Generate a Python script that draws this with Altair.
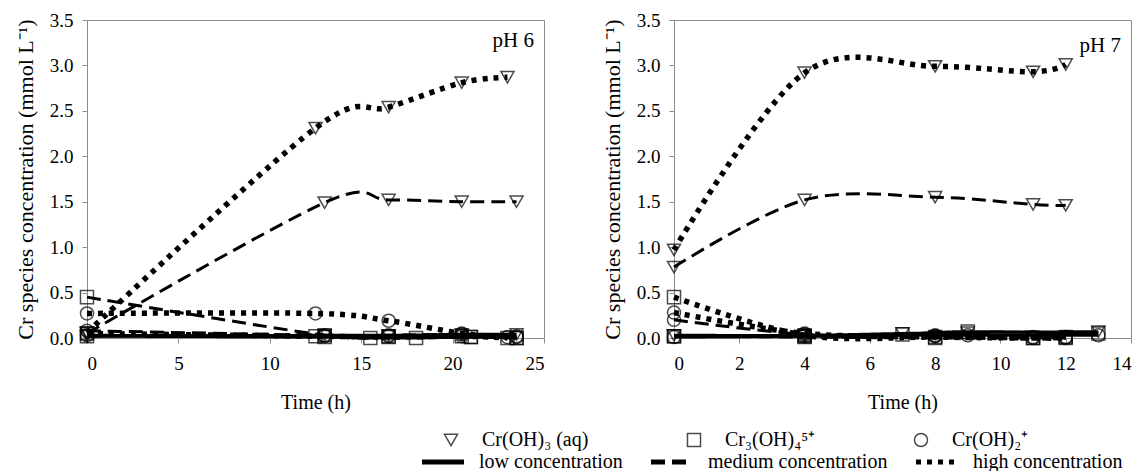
import altair as alt
import pandas as pd

SPECIES = ["Cr(OH)₃ (aq)", "Cr₃(OH)₄⁵⁺", "Cr(OH)₂⁺"]
LEVELS = ["low concentration", "medium concentration", "high concentration"]

# ---- pH 6 ----
tri_low_6_t = [0, 13, 16.5, 20.5, 23.5]
tri_low_6_c = [0.02, 0.03, 0.03, 0.04, 0.04]
tri_med_6_t = [0, 13, 16.5, 20.5, 23.5]
tri_med_6_c = [0.05, 1.49, 1.52, 1.50, 1.50]
tri_high_6_t = [0, 12.5, 16.5, 20.5, 23]
tri_high_6_c = [0.06, 2.31, 2.54, 2.81, 2.87]

sq_low_6_t = [0, 13, 15.5, 18, 21, 23.5]
sq_low_6_c = [0.02, 0.01, 0.00, 0.00, 0.01, 0.00]
sq_med_6_t = [0, 13, 16.5, 21, 23.5]
sq_med_6_c = [0.45, 0.03, 0.02, 0.01, 0.00]
sq_high_6_t = [0, 12.5, 16.5, 20.5, 23]
sq_high_6_c = [0.05, 0.02, 0.01, 0.02, 0.00]

ci_low_6_t = [0, 13, 16.5, 20.5, 23.5]
ci_low_6_c = [0.03, 0.02, 0.02, 0.02, 0.01]
ci_med_6_t = [0, 13, 16.5, 20.5, 23.5]
ci_med_6_c = [0.08, 0.03, 0.03, 0.04, 0.02]
ci_high_6_t = [0, 12.5, 16.5, 20.5, 23]
ci_high_6_c = [0.27, 0.27, 0.19, 0.05, 0.01]

# ---- pH 7 ----
tri_low_7_t = [0, 4, 7, 9, 13]
tri_low_7_c = [0.03, 0.03, 0.05, 0.06, 0.07]
tri_med_7_t = [0, 4, 8, 11, 12]
tri_med_7_c = [0.78, 1.52, 1.55, 1.47, 1.46]
tri_high_7_t = [0, 4, 8, 11, 12]
tri_high_7_c = [0.97, 2.92, 2.99, 2.93, 3.01]

sq_low_7_t = [0, 4, 7, 9, 13]
sq_low_7_c = [0.02, 0.02, 0.04, 0.07, 0.05]
sq_med_7_t = [0, 4, 8, 11, 12]
sq_med_7_c = [0.02, 0.01, 0.00, 0.00, 0.00]
sq_high_7_t = [0, 4, 8, 11, 12]
sq_high_7_c = [0.45, 0.03, 0.01, 0.00, 0.01]

ci_low_7_t = [0, 4, 8, 9, 13]
ci_low_7_c = [0.01, 0.02, 0.03, 0.03, 0.03]
ci_med_7_t = [0, 4, 8, 11, 12]
ci_med_7_c = [0.20, 0.04, 0.02, 0.01, 0.01]
ci_high_7_t = [0, 4, 8, 11, 12]
ci_high_7_c = [0.28, 0.05, 0.02, 0.00, 0.00]


def frame(series):
    rows = []
    for sp, lv, ts, cs in series:
        for t, c in zip(ts, cs):
            rows.append({"species": sp, "conc": lv, "t": t, "c": c})
    return pd.DataFrame(rows)


df6 = frame([
    (SPECIES[0], LEVELS[0], tri_low_6_t, tri_low_6_c),
    (SPECIES[0], LEVELS[1], tri_med_6_t, tri_med_6_c),
    (SPECIES[0], LEVELS[2], tri_high_6_t, tri_high_6_c),
    (SPECIES[1], LEVELS[0], sq_low_6_t, sq_low_6_c),
    (SPECIES[1], LEVELS[1], sq_med_6_t, sq_med_6_c),
    (SPECIES[1], LEVELS[2], sq_high_6_t, sq_high_6_c),
    (SPECIES[2], LEVELS[0], ci_low_6_t, ci_low_6_c),
    (SPECIES[2], LEVELS[1], ci_med_6_t, ci_med_6_c),
    (SPECIES[2], LEVELS[2], ci_high_6_t, ci_high_6_c),
])
df7 = frame([
    (SPECIES[0], LEVELS[0], tri_low_7_t, tri_low_7_c),
    (SPECIES[0], LEVELS[1], tri_med_7_t, tri_med_7_c),
    (SPECIES[0], LEVELS[2], tri_high_7_t, tri_high_7_c),
    (SPECIES[1], LEVELS[0], sq_low_7_t, sq_low_7_c),
    (SPECIES[1], LEVELS[1], sq_med_7_t, sq_med_7_c),
    (SPECIES[1], LEVELS[2], sq_high_7_t, sq_high_7_c),
    (SPECIES[2], LEVELS[0], ci_low_7_t, ci_low_7_c),
    (SPECIES[2], LEVELS[1], ci_med_7_t, ci_med_7_c),
    (SPECIES[2], LEVELS[2], ci_high_7_t, ci_high_7_c),
])

FONT = "Liberation Serif"
GREY = "#8c8c8c"
W, H = 457, 318

# line-style key: a horizontal stroke twice as long as the entry slot
dash_legend = alt.Legend(
    title=None, orient="none", direction="horizontal", columns=3,
    legendX=343, legendY=429, symbolType="M-2,0L2,0", symbolSize=441,
    symbolStrokeColor="black", symbolStrokeWidth=5, columnPadding=18, labelOffset=23,
    labelFont=FONT, labelFontSize=20, labelColor="black", labelLimit=400,
)
shape_legend = alt.Legend(
    title=None, orient="none", direction="horizontal", columns=3,
    legendX=354, legendY=410, symbolSize=170, symbolStrokeWidth=1.5,
    symbolStrokeColor="black", columnPadding=95, labelOffset=21,
    labelFont=FONT, labelFontSize=20, labelColor="black", labelLimit=400,
)


def axis(title, values, fmt, pad, tpad, tsize):
    return alt.Axis(
        title=title, values=values, format=fmt, grid=False,
        domainColor=GREY, tickColor=GREY, tickSize=5,
        labelFont=FONT, labelFontSize=19, labelColor="black", labelPadding=pad,
        titleFont=FONT, titleFontSize=tsize, titleFontWeight="normal", titleColor="black",
        titlePadding=tpad,
    )


def panel(df, xmax, xstep, tag, tag_y):
    x = alt.X("t:Q", scale=alt.Scale(domain=[0, xmax], nice=False),
              axis=axis("Time (h)", list(range(0, xmax + 1, xstep)), "d", 11, 19, 20))
    y = alt.Y("c:Q", scale=alt.Scale(domain=[0, 3.5], nice=False),
              axis=axis("Cr species concentration (mmol L⁻¹)",
                        [0, 0.5, 1.0, 1.5, 2.0, 2.5, 3.0, 3.5], ".1f", 9, 12, 22))
    lines = alt.Chart(df).mark_line(interpolate="cardinal", color="black").encode(
        x=x, y=y,
        detail="species:N",
        strokeDash=alt.StrokeDash("conc:N", scale=alt.Scale(domain=LEVELS, range=[[1, 0], [14, 7], [5, 6]]),
                                  legend=dash_legend),
        strokeWidth=alt.StrokeWidth(condition={"test": "datum.conc === 'high concentration'", "value": 5.5},
                                    value=3),
    )
    pts = alt.Chart(df).mark_point(filled=False, color="black", size=170, strokeWidth=1.5).encode(
        x=x, y=y,
        shape=alt.Shape("species:N", scale=alt.Scale(domain=SPECIES, range=["triangle-down", "square", "circle"]),
                        legend=shape_legend),
    )
    label = alt.Chart(pd.DataFrame({"tag": [tag]})).mark_text(
        font=FONT, fontSize=21, align="right", baseline="middle", color="black"
    ).encode(x=alt.value(W - 10), y=alt.value(tag_y), text="tag:N")
    return alt.layer(lines, pts, label).properties(width=W, height=H)


chart = alt.hconcat(
    panel(df6, 25, 5, "pH 6", 21),
    panel(df7, 14, 2, "pH 7", 26),
    spacing=55,
).resolve_scale(
    shape="shared", strokeDash="shared"
).properties(
    padding={"left": 13, "top": 10, "right": 2, "bottom": 0}
).configure(
    font=FONT
).configure_view(
    stroke=GREY, strokeWidth=1
)

chart.save("out.html", embed_options={"renderer": "svg", "actions": False})
